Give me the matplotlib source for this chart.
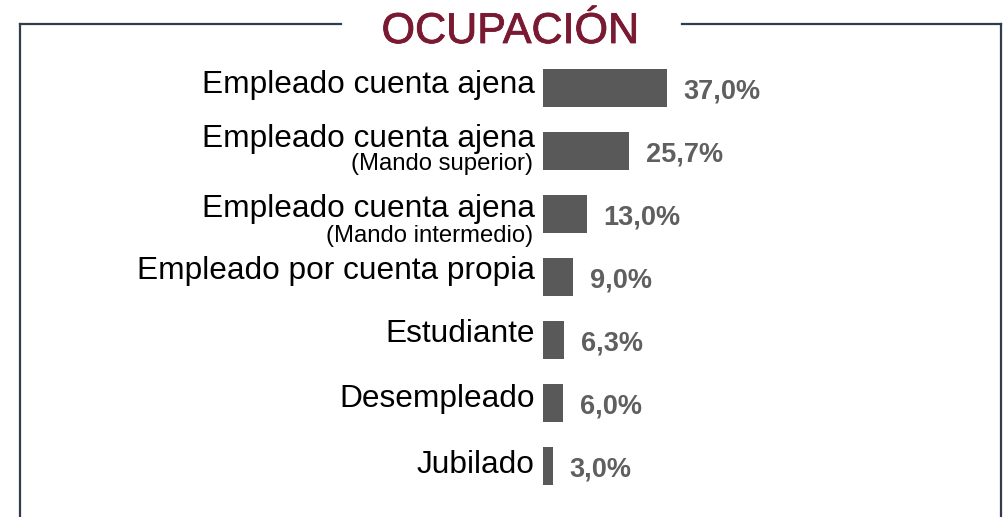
import numpy as np
import matplotlib.pyplot as plt
import matplotlib.patheffects as pe
from matplotlib.lines import Line2D

labels = ['Empleado cuenta ajena', 'Empleado cuenta ajena', 'Empleado cuenta ajena',
          'Empleado por cuenta propia', 'Estudiante', 'Desempleado', 'Jubilado']
sublabels = ['', '(Mando superior)', '(Mando intermedio)', '', '', '', '']
values = [37.0, 25.7, 13.0, 9.0, 6.3, 6.0, 3.0]

# baseline offsets (px, downward from bar centre) for label and sub-label
main_dy = [5.5, -4, 3, 2, 2.5, 4, 7]
sub_dy = [0, 19, 28, 0, 0, 0, 0]

W, H = 1007, 517
fig = plt.figure(figsize=(W/100, H/100), dpi=100)
plt.rcParams['font.family'] = ['Liberation Sans', 'DejaVu Sans']

# axes placed so 0% sits at x=543 px, 3.35 px per %
x0 = 543; ppu = 3.35
ax = fig.add_axes([x0/W, (H-497.5)/H, 100*ppu/W, 441/H])
ax.set_xlim(0, 100)
ax.set_ylim(6.5, -0.5)
ax.axis('off')

y = np.arange(len(values))
ax.barh(y, values, height=0.59, color='#595959')

k = 72/100  # px -> points
for i, (lab, sub, v) in enumerate(zip(labels, sublabels, values)):
    ax.annotate(lab, (0, i), xytext=(-6, -main_dy[i]*k), textcoords='offset points',
                ha='right', va='baseline', fontsize=22.8, color='black')
    if sub:
        ax.annotate(sub, (0, i), xytext=(-7, -sub_dy[i]*k), textcoords='offset points',
                    ha='right', va='baseline', fontsize=17.2, color='black')
    ax.annotate(f'{v:.1f}%'.replace('.', ','), (v, i), xytext=(12, -7.5),
                textcoords='offset points', ha='left', va='baseline',
                fontsize=19.5, fontweight='bold', color='#5f5f5f')

# frame around the chart
fc = '#2f3d4c'
def px(x, yy):
    return x/W, 1 - yy/H
for (a, b) in [((20, 24), (341, 24)), ((682, 24), (1001, 24)),
               ((20, 24), (20, 520)), ((1001, 24), (1001, 520))]:
    p, q = px(*a), px(*b)
    fig.add_artist(Line2D([p[0], q[0]], [p[1], q[1]], color=fc, lw=1.6,
                          transform=fig.transFigure))

fig.text(510/W, 1 - 43/H, 'OCUPACIÓN', ha='center', va='baseline', fontsize=31,
         color='#7a1a32',
         path_effects=[pe.withStroke(linewidth=0.6, foreground='#7a1a32')])

fig.savefig('out.png', dpi=100)
